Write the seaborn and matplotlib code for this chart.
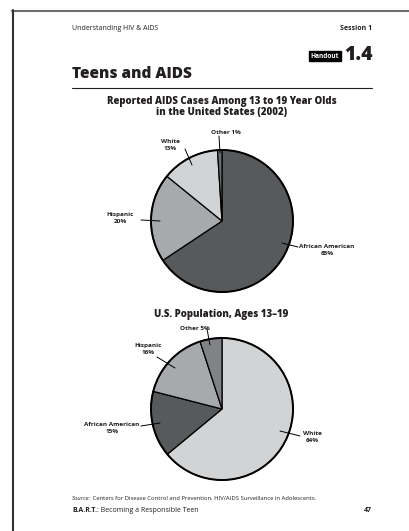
import matplotlib
matplotlib.use("Agg")
import matplotlib.pyplot as plt
import seaborn as sns
from matplotlib.lines import Line2D
from matplotlib.patches import Circle

sns.set_theme(style="white")
plt.rcParams['font.family'] = ['Open Sans', 'DejaVu Sans']

# ---- data ----
aids_groups = ["African American", "Hispanic", "White", "Other"]
aids_values = [65, 20, 13, 1]
aids_colors = ["#58595b", "#a7a9ac", "#d1d3d4", "#6d6e71"]

pop_groups = ["White", "African American", "Hispanic", "Other"]
pop_values = [64, 15, 16, 5]
pop_colors = ["#d1d3d4", "#58595b", "#a7a9ac", "#808285"]

title1 = "Reported AIDS Cases Among 13 to 19 Year Olds\nin the United States (2002)"
title2 = "U.S. Population, Ages 13–19"

W, H = 409, 531
fig = plt.figure(figsize=(W / 100, H / 100), dpi=100)
fig.patch.set_facecolor("white")
ax = fig.add_axes([0, 0, 1, 1])

def Y(p):
    return H - p

R = 71
wp = dict(edgecolor="black", linewidth=0.9)

ax.pie(aids_values, colors=aids_colors, startangle=90, counterclock=False,
       radius=R, center=(222, Y(221)), wedgeprops=wp, frame=True)
ax.pie(pop_values, colors=pop_colors, startangle=90, counterclock=False,
       radius=R, center=(222, Y(409)), wedgeprops=wp, frame=True)
for cy in (221, 409):
    ax.add_patch(Circle((222, Y(cy)), R, fill=False, edgecolor="black", linewidth=1.4, zorder=5))

ax.set_xlim(0, W)
ax.set_ylim(0, H)
ax.set_aspect("auto")
ax.set_axis_off()

TXT = "#231f20"
lab = dict(fontsize=4.6, fontweight="bold", ha="center", va="center", color=TXT, linespacing=1.3)
lw = 0.7

def label(text, tx, ty, x0, y0, x1, y1, **kw):
    d = dict(lab); d.update(kw)
    ax.text(tx, Y(ty), text, **d)
    ax.add_line(Line2D([x0, x1], [Y(y0), Y(y1)], color="black", linewidth=lw, zorder=6))

# pie 1 labels
label(f"{aids_groups[3]} {aids_values[3]}%", 226, 133, 219, 136, 220, 153)
label(f"{aids_groups[2]}\n{aids_values[2]}%", 170, 145, 185, 149, 192, 165)
label(f"{aids_groups[1]}\n{aids_values[1]}%", 120, 218, 141, 220, 160, 221)
label(f"{aids_groups[0]}\n{aids_values[0]}%", 327, 250, 282, 243, 298, 247)

# pie 2 labels
label(f"{pop_groups[3]} {pop_values[3]}%", 195, 328, 207, 329, 210, 345)
label(f"{pop_groups[2]}\n{pop_values[2]}%", 148, 349, 157, 357, 175, 368)
label(f"{pop_groups[1]}\n{pop_values[1]}%", 112, 428, 141, 426, 160, 423)
label(f"{pop_groups[0]}\n{pop_values[0]}%", 312, 437, 280, 431, 300, 436)

# titles
ax.text(222, Y(107), title1, fontsize=6.9, fontweight="heavy", ha="center", va="center",
        color=TXT, linespacing=1.1)
ax.text(221, Y(315), title2, fontsize=6.9, fontweight="heavy", ha="center", va="center",
        color=TXT)

# page header
ax.text(72, Y(29), "Understanding HIV & AIDS", fontsize=5.0, ha="left", va="center", color=TXT)
ax.text(372, Y(29), "Session 1", fontsize=5.0, fontweight="bold", ha="right", va="center", color=TXT)
ax.text(373, Y(55), "1.4", fontsize=14, fontweight="heavy", ha="right", va="center", color=TXT)
ax.text(339, Y(56), "Handout", fontsize=4.7, fontweight="bold", ha="right", va="center", color="white",
        bbox=dict(boxstyle="square,pad=0.25", facecolor="black", edgecolor="black"))
ax.text(72, Y(74), "Teens and AIDS", fontsize=11.1, fontweight="heavy", ha="left", va="center", color=TXT)
ax.add_line(Line2D([72, 372], [Y(88), Y(88)], color=TXT, linewidth=0.8))

# source and footer: pieces placed one after another
renderer = fig.canvas.get_renderer()

def runs(x, y, parts):
    for text, kw in parts:
        t = ax.text(x, Y(y), text, ha="left", va="center", color=TXT, **kw)
        bb = t.get_window_extent(renderer=renderer)
        x = bb.x1 + 0.3

runs(72, 498, [("Source:", dict(fontsize=4.2, style="italic")),
               (" Centers for Disease Control and Prevention, HIV/AIDS Surveillance in Adolescents.",
                dict(fontsize=4.2))])
runs(72, 510, [("B.A.R.T.", dict(fontsize=5.0, fontweight="bold")),
               (": Becoming a Responsible Teen", dict(fontsize=5.0))])
ax.text(372, Y(510), "47", fontsize=5.0, fontweight="bold", ha="right", va="center", color=TXT)

# page frame
ax.add_line(Line2D([12, W], [Y(10.5), Y(10.5)], color="#6d6e71", linewidth=1.5))
ax.add_line(Line2D([12.5, 12.5], [Y(10), 0], color="#333333", linewidth=1.5))

fig.savefig("out.png", dpi=100, facecolor="white")
